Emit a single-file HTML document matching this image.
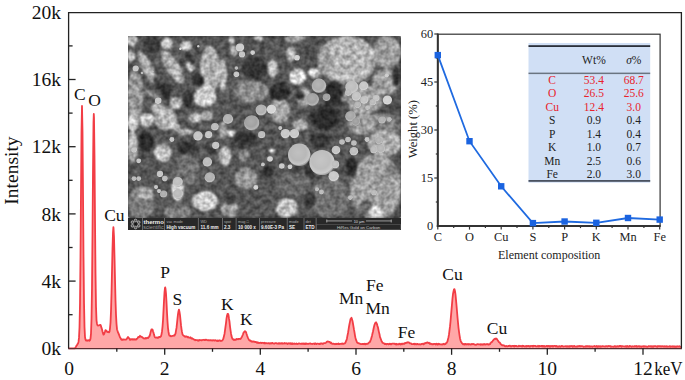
<!DOCTYPE html>
<html><head><meta charset="utf-8"><style>
html,body{margin:0;padding:0;background:#fff;width:685px;height:380px;overflow:hidden}
svg{display:block}
text{font-family:"Liberation Serif",serif;fill:#111}
.t19{font-size:19.5px}
.t17{font-size:17.5px}
.t12{font-size:12.4px;fill:#222}
.t11{font-size:11.5px;fill:#222}
.red{fill:#e8232d}
.sb{font-family:"Liberation Sans",sans-serif}
</style></head><body>
<svg width="685" height="380" viewBox="0 0 685 380"><rect width="685" height="380" fill="#fff"/><path d="M69.0,348.30 L69.5,348.30 L70.0,348.30 L70.5,348.30 L71.0,348.30 L71.5,348.30 L72.0,348.30 L72.5,348.30 L73.0,348.30 L73.5,348.30 L74.0,348.30 L74.5,348.30 L75.0,348.30 L75.5,347.47 L76.0,346.65 L76.5,345.59 L77.0,345.04 L77.5,344.11 L78.0,343.43 L78.5,341.95 L79.0,337.64 L79.5,327.59 L80.0,303.67 L80.5,256.58 L81.0,191.78 L81.5,131.80 L82.0,105.97 L82.5,131.43 L83.0,191.54 L83.5,256.23 L84.0,302.13 L84.5,327.00 L85.0,336.99 L85.5,339.67 L86.0,340.55 L86.5,340.63 L87.0,340.10 L87.5,340.73 L88.0,340.58 L88.5,340.32 L89.0,340.07 L89.5,340.78 L90.0,340.16 L90.5,338.65 L91.0,333.56 L91.5,319.05 L92.0,287.66 L92.5,234.31 L93.0,170.89 L93.5,122.76 L93.8,113.99 L94.0,117.78 L94.5,157.14 L95.0,219.36 L95.5,272.99 L96.0,306.53 L96.5,320.25 L97.0,323.96 L97.5,325.25 L98.0,325.68 L98.5,325.51 L99.0,325.36 L99.5,325.24 L100.0,324.91 L100.5,324.86 L101.0,326.16 L101.5,327.89 L102.0,329.32 L102.5,331.44 L103.0,333.15 L103.5,334.70 L104.0,334.07 L104.5,332.92 L105.0,331.61 L105.5,330.06 L106.0,330.69 L106.5,330.74 L107.0,331.80 L107.5,332.06 L108.0,331.97 L108.5,331.86 L109.0,332.40 L109.5,331.63 L110.0,328.26 L110.5,322.73 L111.0,311.11 L111.5,293.46 L112.0,271.24 L112.5,248.91 L113.0,232.52 L113.4,227.15 L113.5,227.91 L114.0,236.73 L114.5,256.78 L115.0,279.38 L115.5,300.22 L116.0,314.88 L116.5,323.76 L117.0,329.17 L117.3,330.22 L117.5,330.79 L118.0,332.50 L118.5,333.33 L119.0,334.67 L119.5,336.01 L120.0,337.32 L120.5,338.03 L121.0,339.04 L121.5,339.80 L122.0,339.32 L122.5,339.91 L123.0,339.85 L123.5,339.39 L124.0,339.46 L124.5,339.52 L125.0,339.63 L125.5,339.59 L126.0,339.55 L126.5,338.98 L127.0,338.65 L127.5,337.63 L128.0,336.94 L128.5,337.82 L129.0,338.01 L129.5,338.70 L130.0,339.93 L130.5,339.52 L131.0,339.54 L131.5,339.06 L132.0,339.42 L132.5,339.57 L133.0,339.07 L133.5,339.60 L134.0,339.62 L134.5,339.10 L135.0,339.61 L135.5,339.47 L136.0,339.66 L136.5,338.93 L137.0,338.81 L137.5,338.40 L138.0,337.32 L138.5,336.92 L139.0,337.03 L139.5,336.85 L140.0,335.78 L140.5,336.27 L141.0,336.71 L141.5,336.78 L142.0,337.13 L142.5,337.39 L143.0,337.76 L143.5,338.27 L144.0,338.32 L144.5,338.33 L145.0,338.62 L145.5,337.89 L146.0,338.31 L146.5,338.40 L147.0,337.94 L147.5,337.76 L148.0,338.12 L148.5,337.37 L149.0,336.81 L149.5,336.11 L150.0,334.93 L150.5,332.57 L151.0,330.87 L151.5,329.41 L152.0,329.30 L152.5,329.50 L153.0,331.35 L153.5,332.63 L154.0,334.61 L154.5,336.31 L155.0,337.44 L155.5,337.56 L156.0,337.60 L156.5,337.48 L157.0,337.76 L157.5,337.34 L158.0,337.77 L158.5,337.68 L159.0,336.96 L159.5,336.89 L160.0,337.16 L160.5,336.72 L161.0,336.20 L161.5,334.37 L162.0,331.42 L162.5,326.85 L163.0,320.22 L163.5,310.62 L164.0,300.82 L164.5,292.46 L165.0,287.78 L165.2,287.32 L165.5,288.72 L166.0,293.52 L166.5,302.19 L167.0,312.81 L167.5,321.44 L168.0,328.04 L168.5,331.73 L169.0,334.52 L169.5,335.63 L170.0,335.46 L170.5,336.13 L171.0,336.28 L171.5,336.14 L172.0,336.01 L172.5,335.80 L173.0,335.83 L173.5,335.67 L174.0,335.37 L174.5,335.49 L175.0,334.48 L175.5,333.56 L176.0,330.56 L176.5,327.92 L177.0,323.33 L177.5,318.65 L178.0,314.16 L178.5,311.16 L178.9,310.07 L179.0,309.61 L179.5,311.99 L180.0,315.18 L180.5,320.05 L181.0,325.16 L181.5,329.08 L182.0,331.94 L182.5,334.33 L183.0,335.13 L183.5,335.55 L184.0,335.83 L184.5,336.59 L185.0,336.39 L185.5,336.78 L186.0,336.51 L186.5,336.48 L187.0,336.89 L187.5,337.25 L188.0,336.78 L188.5,337.44 L189.0,337.67 L189.5,337.67 L190.0,337.79 L190.5,337.31 L191.0,338.12 L191.5,338.58 L192.0,338.09 L192.5,338.54 L193.0,338.79 L193.5,339.27 L194.0,339.43 L194.5,339.73 L195.0,340.25 L195.5,339.80 L196.0,340.10 L196.5,340.14 L197.0,340.11 L197.5,340.03 L198.0,340.82 L198.5,340.68 L199.0,339.96 L199.5,340.31 L200.0,340.11 L200.5,340.08 L201.0,340.09 L201.5,340.33 L202.0,340.24 L202.5,340.01 L203.0,339.83 L203.5,339.93 L204.0,339.72 L204.5,340.08 L205.0,340.19 L205.5,339.92 L206.0,339.67 L206.5,339.79 L207.0,339.99 L207.5,340.22 L208.0,340.40 L208.5,340.07 L209.0,340.47 L209.5,340.34 L210.0,340.19 L210.5,340.16 L211.0,340.30 L211.5,340.51 L212.0,340.28 L212.5,340.55 L213.0,340.36 L213.5,340.20 L214.0,340.48 L214.5,340.65 L215.0,340.11 L215.5,340.45 L216.0,340.48 L216.5,340.91 L217.0,340.98 L217.5,340.49 L218.0,340.99 L218.5,340.91 L219.0,340.46 L219.5,340.66 L220.0,340.36 L220.5,340.98 L221.0,340.82 L221.5,340.94 L222.0,340.67 L222.5,340.14 L223.0,339.49 L223.5,338.17 L224.0,336.00 L224.5,333.98 L225.0,330.27 L225.5,326.63 L226.0,323.17 L226.5,318.70 L227.0,315.70 L227.5,313.95 L227.8,314.34 L228.0,313.84 L228.5,315.13 L229.0,318.66 L229.5,321.68 L230.0,326.33 L230.5,330.00 L231.0,333.43 L231.5,336.11 L232.0,337.64 L232.5,338.96 L233.0,338.93 L233.5,339.91 L234.0,339.79 L234.5,339.97 L235.0,339.36 L235.5,339.83 L236.0,339.88 L236.5,338.98 L237.0,339.09 L237.5,339.17 L238.0,339.28 L238.5,338.81 L239.0,338.78 L239.5,338.82 L240.0,339.04 L240.5,338.93 L241.0,338.19 L241.5,337.52 L242.0,336.66 L242.5,335.51 L243.0,334.32 L243.5,332.77 L244.0,332.09 L244.5,331.82 L245.0,331.12 L245.5,331.78 L246.0,332.11 L246.5,333.82 L247.0,335.29 L247.5,336.63 L248.0,337.77 L248.5,338.80 L249.0,339.75 L249.5,340.56 L250.0,340.29 L250.5,340.53 L251.0,341.32 L251.5,341.63 L252.0,341.40 L252.5,341.44 L253.0,341.79 L253.5,341.42 L254.0,341.59 L254.5,341.63 L255.0,342.08 L255.5,341.93 L256.0,341.96 L256.5,342.47 L257.0,342.81 L257.5,342.32 L258.0,342.78 L258.5,342.62 L259.0,343.12 L259.5,342.98 L260.0,342.79 L260.5,342.76 L261.0,342.59 L261.5,343.01 L262.0,342.93 L262.5,342.76 L263.0,342.93 L263.5,342.91 L264.0,343.33 L264.5,342.77 L265.0,343.54 L265.5,343.09 L266.0,343.21 L266.5,343.10 L267.0,343.44 L267.5,343.44 L268.0,343.21 L268.5,343.15 L269.0,343.38 L269.5,343.51 L270.0,343.11 L270.5,343.42 L271.0,343.63 L271.5,343.20 L272.0,343.00 L272.5,343.01 L273.0,343.46 L273.5,343.43 L274.0,343.69 L274.5,343.61 L275.0,343.07 L275.5,343.03 L276.0,343.10 L276.5,343.05 L277.0,343.52 L277.5,343.67 L278.0,343.72 L278.5,343.15 L279.0,343.71 L279.5,343.22 L280.0,343.33 L280.5,343.62 L281.0,343.05 L281.5,343.06 L282.0,343.74 L282.5,343.26 L283.0,343.33 L283.5,343.54 L284.0,343.64 L284.5,343.05 L285.0,343.35 L285.5,343.45 L286.0,343.51 L286.5,343.27 L287.0,343.62 L287.5,343.96 L288.0,343.46 L288.5,343.61 L289.0,343.24 L289.5,343.39 L290.0,343.75 L290.5,343.25 L291.0,343.96 L291.5,343.98 L292.0,343.25 L292.5,344.01 L293.0,343.51 L293.5,343.87 L294.0,343.86 L294.5,343.45 L295.0,343.79 L295.5,343.78 L296.0,343.92 L296.5,343.43 L297.0,343.88 L297.5,344.07 L298.0,343.81 L298.5,343.69 L299.0,343.31 L299.5,343.66 L300.0,343.53 L300.5,343.87 L301.0,343.83 L301.5,343.74 L302.0,343.39 L302.5,343.81 L303.0,343.80 L303.5,343.40 L304.0,344.04 L304.5,343.84 L305.0,343.36 L305.5,344.09 L306.0,343.38 L306.5,343.56 L307.0,343.91 L307.5,343.80 L308.0,343.77 L308.5,343.86 L309.0,343.69 L309.5,343.56 L310.0,343.44 L310.5,343.35 L311.0,343.93 L311.5,343.97 L312.0,343.79 L312.5,343.97 L313.0,343.63 L313.5,343.55 L314.0,343.66 L314.5,344.10 L315.0,343.35 L315.5,343.77 L316.0,343.55 L316.5,344.02 L317.0,343.65 L317.5,343.63 L318.0,343.70 L318.5,343.83 L319.0,344.04 L319.5,343.66 L320.0,344.11 L320.5,343.44 L321.0,343.58 L321.5,343.41 L322.0,343.40 L322.5,343.96 L323.0,343.85 L323.5,343.26 L324.0,343.12 L324.5,343.13 L325.0,343.19 L325.5,342.98 L326.0,342.63 L326.5,342.22 L327.0,341.59 L327.5,341.66 L328.0,341.42 L328.5,341.78 L329.0,341.97 L329.5,341.87 L330.0,342.19 L330.5,342.95 L331.0,342.55 L331.5,343.48 L332.0,343.75 L332.5,343.95 L333.0,343.54 L333.5,343.76 L334.0,343.82 L334.5,343.89 L335.0,344.22 L335.5,343.96 L336.0,343.62 L336.5,344.13 L337.0,343.81 L337.5,343.92 L338.0,344.05 L338.5,343.41 L339.0,344.11 L339.5,344.02 L340.0,343.88 L340.5,343.92 L341.0,343.87 L341.5,343.63 L342.0,343.93 L342.5,343.47 L343.0,343.85 L343.5,343.90 L344.0,343.56 L344.5,343.40 L345.0,343.33 L345.5,342.59 L346.0,340.92 L346.5,340.15 L347.0,338.19 L347.5,335.41 L348.0,332.99 L348.5,329.87 L349.0,326.59 L349.5,323.97 L350.0,321.67 L350.5,319.14 L351.0,318.52 L351.3,318.18 L351.5,317.75 L352.0,319.32 L352.5,320.92 L353.0,323.75 L353.5,326.54 L354.0,329.70 L354.5,332.40 L355.0,335.58 L355.5,338.05 L356.0,339.88 L356.5,340.95 L357.0,342.30 L357.5,342.79 L358.0,342.93 L358.5,343.18 L359.0,343.39 L359.5,343.61 L360.0,343.63 L360.5,343.97 L361.0,344.17 L361.5,344.03 L362.0,343.93 L362.5,344.13 L363.0,343.82 L363.5,343.97 L364.0,344.23 L364.5,343.91 L365.0,343.70 L365.5,344.34 L366.0,344.16 L366.5,343.80 L367.0,343.75 L367.5,343.79 L368.0,343.69 L368.5,343.10 L369.0,342.53 L369.5,342.18 L370.0,341.94 L370.5,340.36 L371.0,339.36 L371.5,337.53 L372.0,335.66 L372.5,333.51 L373.0,331.46 L373.5,328.95 L374.0,326.66 L374.5,324.85 L375.0,323.47 L375.5,322.91 L375.9,322.30 L376.0,322.28 L376.5,323.14 L377.0,324.20 L377.5,326.09 L378.0,327.52 L378.5,330.07 L379.0,332.37 L379.5,334.25 L380.0,337.13 L380.5,338.22 L381.0,339.58 L381.5,341.09 L382.0,341.71 L382.5,342.79 L383.0,343.01 L383.5,343.13 L384.0,343.27 L384.5,344.01 L385.0,343.69 L385.5,344.20 L386.0,343.94 L386.5,344.38 L387.0,343.82 L387.5,343.78 L388.0,343.80 L388.5,344.30 L389.0,344.13 L389.5,343.88 L390.0,343.65 L390.5,344.18 L391.0,344.44 L391.5,344.11 L392.0,343.58 L392.5,343.60 L393.0,343.66 L393.5,343.73 L394.0,343.62 L394.5,343.63 L395.0,344.18 L395.5,344.40 L396.0,343.77 L396.5,344.47 L397.0,344.02 L397.5,344.32 L398.0,344.42 L398.5,344.45 L399.0,343.63 L399.5,343.88 L400.0,344.15 L400.5,344.45 L401.0,343.68 L401.5,343.85 L402.0,344.34 L402.5,343.64 L403.0,343.82 L403.5,343.68 L404.0,343.85 L404.5,343.88 L405.0,342.96 L405.5,343.21 L406.0,342.94 L406.5,342.81 L407.0,342.40 L407.5,342.68 L408.0,342.23 L408.5,342.44 L409.0,342.50 L409.5,343.26 L410.0,343.26 L410.5,343.31 L411.0,343.41 L411.5,344.05 L412.0,344.05 L412.5,344.21 L413.0,343.96 L413.5,344.07 L414.0,343.78 L414.5,344.29 L415.0,343.68 L415.5,344.08 L416.0,344.35 L416.5,344.27 L417.0,343.75 L417.5,343.88 L418.0,344.43 L418.5,344.25 L419.0,344.46 L419.5,344.46 L420.0,344.08 L420.5,344.48 L421.0,344.33 L421.5,343.97 L422.0,343.99 L422.5,343.69 L423.0,343.94 L423.5,344.37 L424.0,343.49 L424.5,343.77 L425.0,343.17 L425.5,342.95 L426.0,343.26 L426.5,342.72 L427.0,342.43 L427.5,342.49 L428.0,342.97 L428.5,343.04 L429.0,342.70 L429.5,343.10 L430.0,343.96 L430.5,343.47 L431.0,343.93 L431.5,343.91 L432.0,344.32 L432.5,344.21 L433.0,344.40 L433.5,344.19 L434.0,343.89 L434.5,343.89 L435.0,343.80 L435.5,344.48 L436.0,343.84 L436.5,343.76 L437.0,344.61 L437.5,343.92 L438.0,344.55 L438.5,343.82 L439.0,344.17 L439.5,343.95 L440.0,344.50 L440.5,344.31 L441.0,344.33 L441.5,344.44 L442.0,344.54 L442.5,344.06 L443.0,344.28 L443.5,344.13 L444.0,343.79 L444.5,344.38 L445.0,344.05 L445.5,344.06 L446.0,343.20 L446.5,343.00 L447.0,342.18 L447.5,341.29 L448.0,339.11 L448.5,337.17 L449.0,334.42 L449.5,330.41 L450.0,326.44 L450.5,321.50 L451.0,315.57 L451.5,309.85 L452.0,303.98 L452.5,298.29 L453.0,293.98 L453.5,291.43 L454.0,289.29 L454.2,289.24 L454.5,289.24 L455.0,291.25 L455.5,294.62 L456.0,299.95 L456.5,305.25 L457.0,311.27 L457.5,317.26 L458.0,322.48 L458.5,327.75 L459.0,331.65 L459.5,335.03 L460.0,338.24 L460.5,340.26 L461.0,341.80 L461.5,342.42 L462.0,343.38 L462.5,343.51 L463.0,344.33 L463.5,344.44 L464.0,343.97 L464.5,344.61 L465.0,343.97 L465.5,343.91 L466.0,344.48 L466.5,344.10 L467.0,344.31 L467.5,344.42 L468.0,343.88 L468.5,344.52 L469.0,344.10 L469.5,344.24 L470.0,344.16 L470.5,344.52 L471.0,344.53 L471.5,344.13 L472.0,343.97 L472.5,344.15 L473.0,344.25 L473.5,343.96 L474.0,344.03 L474.5,344.59 L475.0,344.54 L475.5,344.79 L476.0,344.80 L476.5,344.71 L477.0,344.26 L477.5,344.08 L478.0,344.22 L478.5,344.36 L479.0,344.42 L479.5,344.44 L480.0,344.28 L480.5,344.73 L481.0,344.23 L481.5,344.39 L482.0,344.78 L482.5,344.71 L483.0,344.26 L483.5,344.22 L484.0,344.73 L484.5,344.01 L485.0,344.13 L485.5,344.48 L486.0,344.48 L486.5,344.13 L487.0,344.00 L487.5,344.09 L488.0,344.52 L488.5,344.18 L489.0,344.52 L489.5,344.17 L490.0,344.11 L490.5,342.94 L491.0,342.68 L491.5,342.05 L492.0,341.88 L492.5,341.21 L493.0,340.34 L493.5,340.19 L494.0,339.24 L494.5,339.00 L495.0,338.63 L495.5,338.98 L495.8,338.63 L496.0,338.52 L496.5,338.53 L497.0,339.24 L497.5,339.93 L498.0,340.58 L498.5,341.47 L499.0,342.07 L499.5,342.25 L500.0,342.80 L500.5,343.93 L501.0,344.46 L501.5,344.63 L502.0,345.27 L502.5,345.29 L503.0,345.26 L503.5,345.33 L504.0,345.32 L504.5,345.99 L505.0,346.30 L505.5,346.33 L506.0,345.96 L506.5,346.15 L507.0,346.39 L507.5,346.29 L508.0,346.11 L508.5,345.94 L509.0,346.04 L509.5,345.73 L510.0,345.74 L510.5,346.20 L511.0,346.48 L511.5,346.08 L512.0,345.96 L512.5,345.91 L513.0,346.00 L513.5,346.32 L514.0,346.01 L514.5,346.47 L515.0,345.74 L515.5,345.89 L516.0,346.08 L516.5,345.98 L517.0,346.38 L517.5,346.36 L518.0,346.46 L518.5,346.17 L519.0,345.65 L519.5,346.15 L520.0,346.13 L520.5,346.07 L521.0,345.89 L521.5,346.28 L522.0,346.46 L522.5,345.74 L523.0,346.25 L523.5,345.99 L524.0,346.12 L524.5,346.46 L525.0,346.52 L525.5,346.24 L526.0,345.84 L526.5,346.50 L527.0,345.83 L527.5,346.02 L528.0,346.42 L528.5,345.96 L529.0,345.92 L529.5,346.54 L530.0,346.54 L530.5,345.97 L531.0,346.05 L531.5,345.95 L532.0,345.82 L532.5,345.93 L533.0,346.58 L533.5,345.78 L534.0,345.91 L534.5,345.89 L535.0,345.79 L535.5,346.19 L536.0,346.39 L536.5,346.48 L537.0,346.29 L537.5,346.46 L538.0,345.73 L538.5,345.99 L539.0,346.60 L539.5,345.80 L540.0,345.98 L540.5,346.18 L541.0,345.99 L541.5,346.24 L542.0,345.79 L542.5,345.97 L543.0,346.62 L543.5,345.89 L544.0,346.58 L544.5,345.93 L545.0,346.66 L545.5,346.38 L546.0,346.36 L546.5,345.90 L547.0,345.83 L547.5,346.47 L548.0,345.94 L548.5,345.96 L549.0,346.53 L549.5,346.58 L550.0,345.84 L550.5,346.66 L551.0,346.28 L551.5,346.15 L552.0,345.90 L552.5,346.16 L553.0,346.70 L553.5,346.07 L554.0,345.94 L554.5,345.95 L555.0,345.94 L555.5,346.14 L556.0,346.65 L556.5,345.90 L557.0,346.01 L557.5,346.68 L558.0,346.74 L558.5,346.72 L559.0,346.07 L559.5,346.17 L560.0,346.71 L560.5,346.29 L561.0,346.48 L561.5,346.13 L562.0,345.87 L562.5,346.16 L563.0,346.53 L563.5,346.56 L564.0,346.37 L564.5,346.28 L565.0,346.34 L565.5,346.26 L566.0,346.34 L566.5,346.61 L567.0,346.04 L567.5,346.40 L568.0,346.70 L568.5,346.63 L569.0,346.03 L569.5,346.73 L570.0,346.62 L570.5,346.02 L571.0,346.11 L571.5,346.05 L572.0,345.92 L572.5,346.75 L573.0,346.24 L573.5,346.66 L574.0,345.98 L574.5,345.89 L575.0,346.66 L575.5,346.59 L576.0,346.77 L576.5,346.49 L577.0,346.35 L577.5,346.57 L578.0,345.96 L578.5,346.37 L579.0,346.28 L579.5,346.01 L580.0,346.42 L580.5,346.17 L581.0,346.34 L581.5,346.22 L582.0,346.17 L582.5,346.21 L583.0,346.43 L583.5,346.77 L584.0,346.73 L584.5,346.67 L585.0,346.64 L585.5,346.15 L586.0,346.77 L586.5,346.14 L587.0,346.01 L587.5,346.35 L588.0,346.56 L588.5,346.20 L589.0,346.48 L589.5,346.15 L590.0,346.77 L590.5,346.31 L591.0,346.33 L591.5,346.38 L592.0,346.69 L592.5,346.79 L593.0,346.38 L593.5,346.30 L594.0,346.46 L594.5,345.97 L595.0,346.29 L595.5,346.67 L596.0,346.61 L596.5,345.96 L597.0,346.68 L597.5,346.26 L598.0,346.80 L598.5,346.24 L599.0,346.11 L599.5,346.41 L600.0,346.71 L600.5,346.30 L601.0,346.70 L601.5,346.56 L602.0,346.24 L602.5,346.19 L603.0,346.38 L603.5,346.28 L604.0,346.26 L604.5,346.51 L605.0,346.71 L605.5,346.45 L606.0,346.06 L606.5,346.12 L607.0,346.26 L607.5,346.48 L608.0,346.05 L608.5,346.00 L609.0,346.22 L609.5,346.19 L610.0,345.96 L610.5,346.42 L611.0,346.76 L611.5,346.42 L612.0,346.60 L612.5,346.68 L613.0,346.69 L613.5,346.76 L614.0,346.34 L614.5,346.55 L615.0,346.05 L615.5,346.73 L616.0,346.28 L616.5,346.37 L617.0,346.75 L617.5,346.20 L618.0,346.12 L618.5,346.69 L619.0,346.49 L619.5,346.02 L620.0,345.97 L620.5,346.27 L621.0,345.96 L621.5,346.70 L622.0,346.12 L622.5,346.20 L623.0,346.30 L623.5,346.42 L624.0,346.34 L624.5,346.52 L625.0,346.55 L625.5,346.35 L626.0,346.05 L626.5,346.84 L627.0,346.58 L627.5,346.04 L628.0,346.36 L628.5,346.64 L629.0,346.86 L629.5,346.02 L630.0,345.97 L630.5,346.40 L631.0,346.35 L631.5,346.77 L632.0,346.71 L632.5,346.27 L633.0,346.35 L633.5,346.50 L634.0,346.77 L634.5,346.15 L635.0,346.33 L635.5,346.05 L636.0,346.55 L636.5,346.00 L637.0,346.82 L637.5,346.45 L638.0,346.50 L638.5,346.06 L639.0,346.19 L639.5,346.40 L640.0,346.75 L640.5,346.47 L641.0,346.24 L641.5,346.87 L642.0,346.58 L642.5,346.46 L643.0,346.17 L643.5,346.26 L644.0,346.80 L644.5,346.11 L645.0,346.47 L645.5,346.55 L646.0,346.31 L646.5,346.68 L647.0,346.81 L647.5,346.77 L648.0,346.66 L648.5,346.18 L649.0,346.05 L649.5,346.39 L650.0,346.28 L650.5,346.17 L651.0,346.78 L651.5,346.20 L652.0,346.74 L652.5,346.85 L653.0,346.11 L653.5,346.83 L654.0,346.36 L654.5,346.20 L655.0,346.17 L655.5,346.04 L656.0,346.46 L656.5,346.36 L657.0,346.78 L657.5,346.76 L658.0,346.06 L658.5,346.37 L659.0,346.36 L659.5,346.17 L660.0,346.24 L660.5,346.25 L661.0,346.64 L661.5,346.32 L662.0,346.12 L662.5,346.22 L663.0,346.42 L663.5,346.53 L664.0,346.24 L664.5,346.65 L665.0,346.22 L665.5,346.63 L666.0,346.57 L666.5,346.18 L667.0,346.70 L667.5,346.38 L668.0,346.51 L668.5,346.57 L669.0,346.60 L669.5,346.43 L670.0,346.08 L670.5,346.74 L671.0,346.81 L671.5,346.48 L672.0,346.56 L672.5,346.28 L673.0,346.85 L673.5,346.65 L674.0,346.24 L674.5,346.77 L675.0,346.93 L675.5,346.35 L676.0,346.94 L676.5,346.48 L677.0,346.20 L677.5,346.69 L678.0,346.35 L678.5,346.70 L679.0,346.57 L679.5,346.14 L680.0,346.52 L680.5,346.81 L681.0,346.48 L681,348.3 L69,348.3 Z" fill="#ffa7a7" stroke="none"/><path d="M69.0,348.30 L69.5,348.30 L70.0,348.30 L70.5,348.30 L71.0,348.30 L71.5,348.30 L72.0,348.30 L72.5,348.30 L73.0,348.30 L73.5,348.30 L74.0,348.30 L74.5,348.30 L75.0,348.30 L75.5,347.47 L76.0,346.65 L76.5,345.59 L77.0,345.04 L77.5,344.11 L78.0,343.43 L78.5,341.95 L79.0,337.64 L79.5,327.59 L80.0,303.67 L80.5,256.58 L81.0,191.78 L81.5,131.80 L82.0,105.97 L82.5,131.43 L83.0,191.54 L83.5,256.23 L84.0,302.13 L84.5,327.00 L85.0,336.99 L85.5,339.67 L86.0,340.55 L86.5,340.63 L87.0,340.10 L87.5,340.73 L88.0,340.58 L88.5,340.32 L89.0,340.07 L89.5,340.78 L90.0,340.16 L90.5,338.65 L91.0,333.56 L91.5,319.05 L92.0,287.66 L92.5,234.31 L93.0,170.89 L93.5,122.76 L93.8,113.99 L94.0,117.78 L94.5,157.14 L95.0,219.36 L95.5,272.99 L96.0,306.53 L96.5,320.25 L97.0,323.96 L97.5,325.25 L98.0,325.68 L98.5,325.51 L99.0,325.36 L99.5,325.24 L100.0,324.91 L100.5,324.86 L101.0,326.16 L101.5,327.89 L102.0,329.32 L102.5,331.44 L103.0,333.15 L103.5,334.70 L104.0,334.07 L104.5,332.92 L105.0,331.61 L105.5,330.06 L106.0,330.69 L106.5,330.74 L107.0,331.80 L107.5,332.06 L108.0,331.97 L108.5,331.86 L109.0,332.40 L109.5,331.63 L110.0,328.26 L110.5,322.73 L111.0,311.11 L111.5,293.46 L112.0,271.24 L112.5,248.91 L113.0,232.52 L113.4,227.15 L113.5,227.91 L114.0,236.73 L114.5,256.78 L115.0,279.38 L115.5,300.22 L116.0,314.88 L116.5,323.76 L117.0,329.17 L117.3,330.22 L117.5,330.79 L118.0,332.50 L118.5,333.33 L119.0,334.67 L119.5,336.01 L120.0,337.32 L120.5,338.03 L121.0,339.04 L121.5,339.80 L122.0,339.32 L122.5,339.91 L123.0,339.85 L123.5,339.39 L124.0,339.46 L124.5,339.52 L125.0,339.63 L125.5,339.59 L126.0,339.55 L126.5,338.98 L127.0,338.65 L127.5,337.63 L128.0,336.94 L128.5,337.82 L129.0,338.01 L129.5,338.70 L130.0,339.93 L130.5,339.52 L131.0,339.54 L131.5,339.06 L132.0,339.42 L132.5,339.57 L133.0,339.07 L133.5,339.60 L134.0,339.62 L134.5,339.10 L135.0,339.61 L135.5,339.47 L136.0,339.66 L136.5,338.93 L137.0,338.81 L137.5,338.40 L138.0,337.32 L138.5,336.92 L139.0,337.03 L139.5,336.85 L140.0,335.78 L140.5,336.27 L141.0,336.71 L141.5,336.78 L142.0,337.13 L142.5,337.39 L143.0,337.76 L143.5,338.27 L144.0,338.32 L144.5,338.33 L145.0,338.62 L145.5,337.89 L146.0,338.31 L146.5,338.40 L147.0,337.94 L147.5,337.76 L148.0,338.12 L148.5,337.37 L149.0,336.81 L149.5,336.11 L150.0,334.93 L150.5,332.57 L151.0,330.87 L151.5,329.41 L152.0,329.30 L152.5,329.50 L153.0,331.35 L153.5,332.63 L154.0,334.61 L154.5,336.31 L155.0,337.44 L155.5,337.56 L156.0,337.60 L156.5,337.48 L157.0,337.76 L157.5,337.34 L158.0,337.77 L158.5,337.68 L159.0,336.96 L159.5,336.89 L160.0,337.16 L160.5,336.72 L161.0,336.20 L161.5,334.37 L162.0,331.42 L162.5,326.85 L163.0,320.22 L163.5,310.62 L164.0,300.82 L164.5,292.46 L165.0,287.78 L165.2,287.32 L165.5,288.72 L166.0,293.52 L166.5,302.19 L167.0,312.81 L167.5,321.44 L168.0,328.04 L168.5,331.73 L169.0,334.52 L169.5,335.63 L170.0,335.46 L170.5,336.13 L171.0,336.28 L171.5,336.14 L172.0,336.01 L172.5,335.80 L173.0,335.83 L173.5,335.67 L174.0,335.37 L174.5,335.49 L175.0,334.48 L175.5,333.56 L176.0,330.56 L176.5,327.92 L177.0,323.33 L177.5,318.65 L178.0,314.16 L178.5,311.16 L178.9,310.07 L179.0,309.61 L179.5,311.99 L180.0,315.18 L180.5,320.05 L181.0,325.16 L181.5,329.08 L182.0,331.94 L182.5,334.33 L183.0,335.13 L183.5,335.55 L184.0,335.83 L184.5,336.59 L185.0,336.39 L185.5,336.78 L186.0,336.51 L186.5,336.48 L187.0,336.89 L187.5,337.25 L188.0,336.78 L188.5,337.44 L189.0,337.67 L189.5,337.67 L190.0,337.79 L190.5,337.31 L191.0,338.12 L191.5,338.58 L192.0,338.09 L192.5,338.54 L193.0,338.79 L193.5,339.27 L194.0,339.43 L194.5,339.73 L195.0,340.25 L195.5,339.80 L196.0,340.10 L196.5,340.14 L197.0,340.11 L197.5,340.03 L198.0,340.82 L198.5,340.68 L199.0,339.96 L199.5,340.31 L200.0,340.11 L200.5,340.08 L201.0,340.09 L201.5,340.33 L202.0,340.24 L202.5,340.01 L203.0,339.83 L203.5,339.93 L204.0,339.72 L204.5,340.08 L205.0,340.19 L205.5,339.92 L206.0,339.67 L206.5,339.79 L207.0,339.99 L207.5,340.22 L208.0,340.40 L208.5,340.07 L209.0,340.47 L209.5,340.34 L210.0,340.19 L210.5,340.16 L211.0,340.30 L211.5,340.51 L212.0,340.28 L212.5,340.55 L213.0,340.36 L213.5,340.20 L214.0,340.48 L214.5,340.65 L215.0,340.11 L215.5,340.45 L216.0,340.48 L216.5,340.91 L217.0,340.98 L217.5,340.49 L218.0,340.99 L218.5,340.91 L219.0,340.46 L219.5,340.66 L220.0,340.36 L220.5,340.98 L221.0,340.82 L221.5,340.94 L222.0,340.67 L222.5,340.14 L223.0,339.49 L223.5,338.17 L224.0,336.00 L224.5,333.98 L225.0,330.27 L225.5,326.63 L226.0,323.17 L226.5,318.70 L227.0,315.70 L227.5,313.95 L227.8,314.34 L228.0,313.84 L228.5,315.13 L229.0,318.66 L229.5,321.68 L230.0,326.33 L230.5,330.00 L231.0,333.43 L231.5,336.11 L232.0,337.64 L232.5,338.96 L233.0,338.93 L233.5,339.91 L234.0,339.79 L234.5,339.97 L235.0,339.36 L235.5,339.83 L236.0,339.88 L236.5,338.98 L237.0,339.09 L237.5,339.17 L238.0,339.28 L238.5,338.81 L239.0,338.78 L239.5,338.82 L240.0,339.04 L240.5,338.93 L241.0,338.19 L241.5,337.52 L242.0,336.66 L242.5,335.51 L243.0,334.32 L243.5,332.77 L244.0,332.09 L244.5,331.82 L245.0,331.12 L245.5,331.78 L246.0,332.11 L246.5,333.82 L247.0,335.29 L247.5,336.63 L248.0,337.77 L248.5,338.80 L249.0,339.75 L249.5,340.56 L250.0,340.29 L250.5,340.53 L251.0,341.32 L251.5,341.63 L252.0,341.40 L252.5,341.44 L253.0,341.79 L253.5,341.42 L254.0,341.59 L254.5,341.63 L255.0,342.08 L255.5,341.93 L256.0,341.96 L256.5,342.47 L257.0,342.81 L257.5,342.32 L258.0,342.78 L258.5,342.62 L259.0,343.12 L259.5,342.98 L260.0,342.79 L260.5,342.76 L261.0,342.59 L261.5,343.01 L262.0,342.93 L262.5,342.76 L263.0,342.93 L263.5,342.91 L264.0,343.33 L264.5,342.77 L265.0,343.54 L265.5,343.09 L266.0,343.21 L266.5,343.10 L267.0,343.44 L267.5,343.44 L268.0,343.21 L268.5,343.15 L269.0,343.38 L269.5,343.51 L270.0,343.11 L270.5,343.42 L271.0,343.63 L271.5,343.20 L272.0,343.00 L272.5,343.01 L273.0,343.46 L273.5,343.43 L274.0,343.69 L274.5,343.61 L275.0,343.07 L275.5,343.03 L276.0,343.10 L276.5,343.05 L277.0,343.52 L277.5,343.67 L278.0,343.72 L278.5,343.15 L279.0,343.71 L279.5,343.22 L280.0,343.33 L280.5,343.62 L281.0,343.05 L281.5,343.06 L282.0,343.74 L282.5,343.26 L283.0,343.33 L283.5,343.54 L284.0,343.64 L284.5,343.05 L285.0,343.35 L285.5,343.45 L286.0,343.51 L286.5,343.27 L287.0,343.62 L287.5,343.96 L288.0,343.46 L288.5,343.61 L289.0,343.24 L289.5,343.39 L290.0,343.75 L290.5,343.25 L291.0,343.96 L291.5,343.98 L292.0,343.25 L292.5,344.01 L293.0,343.51 L293.5,343.87 L294.0,343.86 L294.5,343.45 L295.0,343.79 L295.5,343.78 L296.0,343.92 L296.5,343.43 L297.0,343.88 L297.5,344.07 L298.0,343.81 L298.5,343.69 L299.0,343.31 L299.5,343.66 L300.0,343.53 L300.5,343.87 L301.0,343.83 L301.5,343.74 L302.0,343.39 L302.5,343.81 L303.0,343.80 L303.5,343.40 L304.0,344.04 L304.5,343.84 L305.0,343.36 L305.5,344.09 L306.0,343.38 L306.5,343.56 L307.0,343.91 L307.5,343.80 L308.0,343.77 L308.5,343.86 L309.0,343.69 L309.5,343.56 L310.0,343.44 L310.5,343.35 L311.0,343.93 L311.5,343.97 L312.0,343.79 L312.5,343.97 L313.0,343.63 L313.5,343.55 L314.0,343.66 L314.5,344.10 L315.0,343.35 L315.5,343.77 L316.0,343.55 L316.5,344.02 L317.0,343.65 L317.5,343.63 L318.0,343.70 L318.5,343.83 L319.0,344.04 L319.5,343.66 L320.0,344.11 L320.5,343.44 L321.0,343.58 L321.5,343.41 L322.0,343.40 L322.5,343.96 L323.0,343.85 L323.5,343.26 L324.0,343.12 L324.5,343.13 L325.0,343.19 L325.5,342.98 L326.0,342.63 L326.5,342.22 L327.0,341.59 L327.5,341.66 L328.0,341.42 L328.5,341.78 L329.0,341.97 L329.5,341.87 L330.0,342.19 L330.5,342.95 L331.0,342.55 L331.5,343.48 L332.0,343.75 L332.5,343.95 L333.0,343.54 L333.5,343.76 L334.0,343.82 L334.5,343.89 L335.0,344.22 L335.5,343.96 L336.0,343.62 L336.5,344.13 L337.0,343.81 L337.5,343.92 L338.0,344.05 L338.5,343.41 L339.0,344.11 L339.5,344.02 L340.0,343.88 L340.5,343.92 L341.0,343.87 L341.5,343.63 L342.0,343.93 L342.5,343.47 L343.0,343.85 L343.5,343.90 L344.0,343.56 L344.5,343.40 L345.0,343.33 L345.5,342.59 L346.0,340.92 L346.5,340.15 L347.0,338.19 L347.5,335.41 L348.0,332.99 L348.5,329.87 L349.0,326.59 L349.5,323.97 L350.0,321.67 L350.5,319.14 L351.0,318.52 L351.3,318.18 L351.5,317.75 L352.0,319.32 L352.5,320.92 L353.0,323.75 L353.5,326.54 L354.0,329.70 L354.5,332.40 L355.0,335.58 L355.5,338.05 L356.0,339.88 L356.5,340.95 L357.0,342.30 L357.5,342.79 L358.0,342.93 L358.5,343.18 L359.0,343.39 L359.5,343.61 L360.0,343.63 L360.5,343.97 L361.0,344.17 L361.5,344.03 L362.0,343.93 L362.5,344.13 L363.0,343.82 L363.5,343.97 L364.0,344.23 L364.5,343.91 L365.0,343.70 L365.5,344.34 L366.0,344.16 L366.5,343.80 L367.0,343.75 L367.5,343.79 L368.0,343.69 L368.5,343.10 L369.0,342.53 L369.5,342.18 L370.0,341.94 L370.5,340.36 L371.0,339.36 L371.5,337.53 L372.0,335.66 L372.5,333.51 L373.0,331.46 L373.5,328.95 L374.0,326.66 L374.5,324.85 L375.0,323.47 L375.5,322.91 L375.9,322.30 L376.0,322.28 L376.5,323.14 L377.0,324.20 L377.5,326.09 L378.0,327.52 L378.5,330.07 L379.0,332.37 L379.5,334.25 L380.0,337.13 L380.5,338.22 L381.0,339.58 L381.5,341.09 L382.0,341.71 L382.5,342.79 L383.0,343.01 L383.5,343.13 L384.0,343.27 L384.5,344.01 L385.0,343.69 L385.5,344.20 L386.0,343.94 L386.5,344.38 L387.0,343.82 L387.5,343.78 L388.0,343.80 L388.5,344.30 L389.0,344.13 L389.5,343.88 L390.0,343.65 L390.5,344.18 L391.0,344.44 L391.5,344.11 L392.0,343.58 L392.5,343.60 L393.0,343.66 L393.5,343.73 L394.0,343.62 L394.5,343.63 L395.0,344.18 L395.5,344.40 L396.0,343.77 L396.5,344.47 L397.0,344.02 L397.5,344.32 L398.0,344.42 L398.5,344.45 L399.0,343.63 L399.5,343.88 L400.0,344.15 L400.5,344.45 L401.0,343.68 L401.5,343.85 L402.0,344.34 L402.5,343.64 L403.0,343.82 L403.5,343.68 L404.0,343.85 L404.5,343.88 L405.0,342.96 L405.5,343.21 L406.0,342.94 L406.5,342.81 L407.0,342.40 L407.5,342.68 L408.0,342.23 L408.5,342.44 L409.0,342.50 L409.5,343.26 L410.0,343.26 L410.5,343.31 L411.0,343.41 L411.5,344.05 L412.0,344.05 L412.5,344.21 L413.0,343.96 L413.5,344.07 L414.0,343.78 L414.5,344.29 L415.0,343.68 L415.5,344.08 L416.0,344.35 L416.5,344.27 L417.0,343.75 L417.5,343.88 L418.0,344.43 L418.5,344.25 L419.0,344.46 L419.5,344.46 L420.0,344.08 L420.5,344.48 L421.0,344.33 L421.5,343.97 L422.0,343.99 L422.5,343.69 L423.0,343.94 L423.5,344.37 L424.0,343.49 L424.5,343.77 L425.0,343.17 L425.5,342.95 L426.0,343.26 L426.5,342.72 L427.0,342.43 L427.5,342.49 L428.0,342.97 L428.5,343.04 L429.0,342.70 L429.5,343.10 L430.0,343.96 L430.5,343.47 L431.0,343.93 L431.5,343.91 L432.0,344.32 L432.5,344.21 L433.0,344.40 L433.5,344.19 L434.0,343.89 L434.5,343.89 L435.0,343.80 L435.5,344.48 L436.0,343.84 L436.5,343.76 L437.0,344.61 L437.5,343.92 L438.0,344.55 L438.5,343.82 L439.0,344.17 L439.5,343.95 L440.0,344.50 L440.5,344.31 L441.0,344.33 L441.5,344.44 L442.0,344.54 L442.5,344.06 L443.0,344.28 L443.5,344.13 L444.0,343.79 L444.5,344.38 L445.0,344.05 L445.5,344.06 L446.0,343.20 L446.5,343.00 L447.0,342.18 L447.5,341.29 L448.0,339.11 L448.5,337.17 L449.0,334.42 L449.5,330.41 L450.0,326.44 L450.5,321.50 L451.0,315.57 L451.5,309.85 L452.0,303.98 L452.5,298.29 L453.0,293.98 L453.5,291.43 L454.0,289.29 L454.2,289.24 L454.5,289.24 L455.0,291.25 L455.5,294.62 L456.0,299.95 L456.5,305.25 L457.0,311.27 L457.5,317.26 L458.0,322.48 L458.5,327.75 L459.0,331.65 L459.5,335.03 L460.0,338.24 L460.5,340.26 L461.0,341.80 L461.5,342.42 L462.0,343.38 L462.5,343.51 L463.0,344.33 L463.5,344.44 L464.0,343.97 L464.5,344.61 L465.0,343.97 L465.5,343.91 L466.0,344.48 L466.5,344.10 L467.0,344.31 L467.5,344.42 L468.0,343.88 L468.5,344.52 L469.0,344.10 L469.5,344.24 L470.0,344.16 L470.5,344.52 L471.0,344.53 L471.5,344.13 L472.0,343.97 L472.5,344.15 L473.0,344.25 L473.5,343.96 L474.0,344.03 L474.5,344.59 L475.0,344.54 L475.5,344.79 L476.0,344.80 L476.5,344.71 L477.0,344.26 L477.5,344.08 L478.0,344.22 L478.5,344.36 L479.0,344.42 L479.5,344.44 L480.0,344.28 L480.5,344.73 L481.0,344.23 L481.5,344.39 L482.0,344.78 L482.5,344.71 L483.0,344.26 L483.5,344.22 L484.0,344.73 L484.5,344.01 L485.0,344.13 L485.5,344.48 L486.0,344.48 L486.5,344.13 L487.0,344.00 L487.5,344.09 L488.0,344.52 L488.5,344.18 L489.0,344.52 L489.5,344.17 L490.0,344.11 L490.5,342.94 L491.0,342.68 L491.5,342.05 L492.0,341.88 L492.5,341.21 L493.0,340.34 L493.5,340.19 L494.0,339.24 L494.5,339.00 L495.0,338.63 L495.5,338.98 L495.8,338.63 L496.0,338.52 L496.5,338.53 L497.0,339.24 L497.5,339.93 L498.0,340.58 L498.5,341.47 L499.0,342.07 L499.5,342.25 L500.0,342.80 L500.5,343.93 L501.0,344.46 L501.5,344.63 L502.0,345.27 L502.5,345.29 L503.0,345.26 L503.5,345.33 L504.0,345.32 L504.5,345.99 L505.0,346.30 L505.5,346.33 L506.0,345.96 L506.5,346.15 L507.0,346.39 L507.5,346.29 L508.0,346.11 L508.5,345.94 L509.0,346.04 L509.5,345.73 L510.0,345.74 L510.5,346.20 L511.0,346.48 L511.5,346.08 L512.0,345.96 L512.5,345.91 L513.0,346.00 L513.5,346.32 L514.0,346.01 L514.5,346.47 L515.0,345.74 L515.5,345.89 L516.0,346.08 L516.5,345.98 L517.0,346.38 L517.5,346.36 L518.0,346.46 L518.5,346.17 L519.0,345.65 L519.5,346.15 L520.0,346.13 L520.5,346.07 L521.0,345.89 L521.5,346.28 L522.0,346.46 L522.5,345.74 L523.0,346.25 L523.5,345.99 L524.0,346.12 L524.5,346.46 L525.0,346.52 L525.5,346.24 L526.0,345.84 L526.5,346.50 L527.0,345.83 L527.5,346.02 L528.0,346.42 L528.5,345.96 L529.0,345.92 L529.5,346.54 L530.0,346.54 L530.5,345.97 L531.0,346.05 L531.5,345.95 L532.0,345.82 L532.5,345.93 L533.0,346.58 L533.5,345.78 L534.0,345.91 L534.5,345.89 L535.0,345.79 L535.5,346.19 L536.0,346.39 L536.5,346.48 L537.0,346.29 L537.5,346.46 L538.0,345.73 L538.5,345.99 L539.0,346.60 L539.5,345.80 L540.0,345.98 L540.5,346.18 L541.0,345.99 L541.5,346.24 L542.0,345.79 L542.5,345.97 L543.0,346.62 L543.5,345.89 L544.0,346.58 L544.5,345.93 L545.0,346.66 L545.5,346.38 L546.0,346.36 L546.5,345.90 L547.0,345.83 L547.5,346.47 L548.0,345.94 L548.5,345.96 L549.0,346.53 L549.5,346.58 L550.0,345.84 L550.5,346.66 L551.0,346.28 L551.5,346.15 L552.0,345.90 L552.5,346.16 L553.0,346.70 L553.5,346.07 L554.0,345.94 L554.5,345.95 L555.0,345.94 L555.5,346.14 L556.0,346.65 L556.5,345.90 L557.0,346.01 L557.5,346.68 L558.0,346.74 L558.5,346.72 L559.0,346.07 L559.5,346.17 L560.0,346.71 L560.5,346.29 L561.0,346.48 L561.5,346.13 L562.0,345.87 L562.5,346.16 L563.0,346.53 L563.5,346.56 L564.0,346.37 L564.5,346.28 L565.0,346.34 L565.5,346.26 L566.0,346.34 L566.5,346.61 L567.0,346.04 L567.5,346.40 L568.0,346.70 L568.5,346.63 L569.0,346.03 L569.5,346.73 L570.0,346.62 L570.5,346.02 L571.0,346.11 L571.5,346.05 L572.0,345.92 L572.5,346.75 L573.0,346.24 L573.5,346.66 L574.0,345.98 L574.5,345.89 L575.0,346.66 L575.5,346.59 L576.0,346.77 L576.5,346.49 L577.0,346.35 L577.5,346.57 L578.0,345.96 L578.5,346.37 L579.0,346.28 L579.5,346.01 L580.0,346.42 L580.5,346.17 L581.0,346.34 L581.5,346.22 L582.0,346.17 L582.5,346.21 L583.0,346.43 L583.5,346.77 L584.0,346.73 L584.5,346.67 L585.0,346.64 L585.5,346.15 L586.0,346.77 L586.5,346.14 L587.0,346.01 L587.5,346.35 L588.0,346.56 L588.5,346.20 L589.0,346.48 L589.5,346.15 L590.0,346.77 L590.5,346.31 L591.0,346.33 L591.5,346.38 L592.0,346.69 L592.5,346.79 L593.0,346.38 L593.5,346.30 L594.0,346.46 L594.5,345.97 L595.0,346.29 L595.5,346.67 L596.0,346.61 L596.5,345.96 L597.0,346.68 L597.5,346.26 L598.0,346.80 L598.5,346.24 L599.0,346.11 L599.5,346.41 L600.0,346.71 L600.5,346.30 L601.0,346.70 L601.5,346.56 L602.0,346.24 L602.5,346.19 L603.0,346.38 L603.5,346.28 L604.0,346.26 L604.5,346.51 L605.0,346.71 L605.5,346.45 L606.0,346.06 L606.5,346.12 L607.0,346.26 L607.5,346.48 L608.0,346.05 L608.5,346.00 L609.0,346.22 L609.5,346.19 L610.0,345.96 L610.5,346.42 L611.0,346.76 L611.5,346.42 L612.0,346.60 L612.5,346.68 L613.0,346.69 L613.5,346.76 L614.0,346.34 L614.5,346.55 L615.0,346.05 L615.5,346.73 L616.0,346.28 L616.5,346.37 L617.0,346.75 L617.5,346.20 L618.0,346.12 L618.5,346.69 L619.0,346.49 L619.5,346.02 L620.0,345.97 L620.5,346.27 L621.0,345.96 L621.5,346.70 L622.0,346.12 L622.5,346.20 L623.0,346.30 L623.5,346.42 L624.0,346.34 L624.5,346.52 L625.0,346.55 L625.5,346.35 L626.0,346.05 L626.5,346.84 L627.0,346.58 L627.5,346.04 L628.0,346.36 L628.5,346.64 L629.0,346.86 L629.5,346.02 L630.0,345.97 L630.5,346.40 L631.0,346.35 L631.5,346.77 L632.0,346.71 L632.5,346.27 L633.0,346.35 L633.5,346.50 L634.0,346.77 L634.5,346.15 L635.0,346.33 L635.5,346.05 L636.0,346.55 L636.5,346.00 L637.0,346.82 L637.5,346.45 L638.0,346.50 L638.5,346.06 L639.0,346.19 L639.5,346.40 L640.0,346.75 L640.5,346.47 L641.0,346.24 L641.5,346.87 L642.0,346.58 L642.5,346.46 L643.0,346.17 L643.5,346.26 L644.0,346.80 L644.5,346.11 L645.0,346.47 L645.5,346.55 L646.0,346.31 L646.5,346.68 L647.0,346.81 L647.5,346.77 L648.0,346.66 L648.5,346.18 L649.0,346.05 L649.5,346.39 L650.0,346.28 L650.5,346.17 L651.0,346.78 L651.5,346.20 L652.0,346.74 L652.5,346.85 L653.0,346.11 L653.5,346.83 L654.0,346.36 L654.5,346.20 L655.0,346.17 L655.5,346.04 L656.0,346.46 L656.5,346.36 L657.0,346.78 L657.5,346.76 L658.0,346.06 L658.5,346.37 L659.0,346.36 L659.5,346.17 L660.0,346.24 L660.5,346.25 L661.0,346.64 L661.5,346.32 L662.0,346.12 L662.5,346.22 L663.0,346.42 L663.5,346.53 L664.0,346.24 L664.5,346.65 L665.0,346.22 L665.5,346.63 L666.0,346.57 L666.5,346.18 L667.0,346.70 L667.5,346.38 L668.0,346.51 L668.5,346.57 L669.0,346.60 L669.5,346.43 L670.0,346.08 L670.5,346.74 L671.0,346.81 L671.5,346.48 L672.0,346.56 L672.5,346.28 L673.0,346.85 L673.5,346.65 L674.0,346.24 L674.5,346.77 L675.0,346.93 L675.5,346.35 L676.0,346.94 L676.5,346.48 L677.0,346.20 L677.5,346.69 L678.0,346.35 L678.5,346.70 L679.0,346.57 L679.5,346.14 L680.0,346.52 L680.5,346.81 L681.0,346.48" fill="none" stroke="#f23d45" stroke-width="1.8" stroke-linejoin="round"/><path d="M68.6,348.3 V12.6 H681.4 V348.3" fill="none" stroke="#222" stroke-width="1.3"/><line x1="68" y1="348.6" x2="682" y2="348.6" stroke="#5c2c30" stroke-width="1.3"/><line x1="68.6" y1="314.7" x2="72.6" y2="314.7" stroke="#222" stroke-width="1.3"/><line x1="68.6" y1="281.1" x2="75.6" y2="281.1" stroke="#222" stroke-width="1.3"/><line x1="68.6" y1="247.5" x2="72.6" y2="247.5" stroke="#222" stroke-width="1.3"/><line x1="68.6" y1="213.9" x2="75.6" y2="213.9" stroke="#222" stroke-width="1.3"/><line x1="68.6" y1="180.3" x2="72.6" y2="180.3" stroke="#222" stroke-width="1.3"/><line x1="68.6" y1="146.7" x2="75.6" y2="146.7" stroke="#222" stroke-width="1.3"/><line x1="68.6" y1="113.1" x2="72.6" y2="113.1" stroke="#222" stroke-width="1.3"/><line x1="68.6" y1="79.5" x2="75.6" y2="79.5" stroke="#222" stroke-width="1.3"/><line x1="68.6" y1="45.9" x2="72.6" y2="45.9" stroke="#222" stroke-width="1.3"/><line x1="116.8" y1="348.3" x2="116.8" y2="351.8" stroke="#222" stroke-width="1.3"/><line x1="164.7" y1="348.3" x2="164.7" y2="354.8" stroke="#222" stroke-width="1.3"/><line x1="212.5" y1="348.3" x2="212.5" y2="351.8" stroke="#222" stroke-width="1.3"/><line x1="260.3" y1="348.3" x2="260.3" y2="354.8" stroke="#222" stroke-width="1.3"/><line x1="308.1" y1="348.3" x2="308.1" y2="351.8" stroke="#222" stroke-width="1.3"/><line x1="356.0" y1="348.3" x2="356.0" y2="354.8" stroke="#222" stroke-width="1.3"/><line x1="403.8" y1="348.3" x2="403.8" y2="351.8" stroke="#222" stroke-width="1.3"/><line x1="451.6" y1="348.3" x2="451.6" y2="354.8" stroke="#222" stroke-width="1.3"/><line x1="499.5" y1="348.3" x2="499.5" y2="351.8" stroke="#222" stroke-width="1.3"/><line x1="547.3" y1="348.3" x2="547.3" y2="354.8" stroke="#222" stroke-width="1.3"/><line x1="595.1" y1="348.3" x2="595.1" y2="351.8" stroke="#222" stroke-width="1.3"/><line x1="643.0" y1="348.3" x2="643.0" y2="354.8" stroke="#222" stroke-width="1.3"/><text x="61" y="354.9" text-anchor="end" class="t19">0k</text><text x="61" y="287.7" text-anchor="end" class="t19">4k</text><text x="61" y="220.5" text-anchor="end" class="t19">8k</text><text x="61" y="153.3" text-anchor="end" class="t19">12k</text><text x="61" y="86.1" text-anchor="end" class="t19">16k</text><text x="61" y="18.9" text-anchor="end" class="t19">20k</text><text x="69.0" y="374.5" text-anchor="middle" class="t19">0</text><text x="164.7" y="374.5" text-anchor="middle" class="t19">2</text><text x="260.3" y="374.5" text-anchor="middle" class="t19">4</text><text x="356.0" y="374.5" text-anchor="middle" class="t19">6</text><text x="451.6" y="374.5" text-anchor="middle" class="t19">8</text><text x="547.3" y="374.5" text-anchor="middle" class="t19">10</text><text x="643.0" y="374.5" text-anchor="middle" class="t19">12</text><text x="654.3" y="374.5" text-anchor="start" class="t19" textLength="28.3" lengthAdjust="spacingAndGlyphs">keV</text><text transform="translate(17.5,170.5) rotate(-90)" text-anchor="middle" class="t19">Intensity</text><text x="79.9" y="99.7" text-anchor="middle" class="t17">C</text><text x="94.5" y="105.6" text-anchor="middle" class="t17">O</text><text x="114.4" y="220.5" text-anchor="middle" class="t17">Cu</text><text x="165" y="277.6" text-anchor="middle" class="t17">P</text><text x="177.4" y="304.7" text-anchor="middle" class="t17">S</text><text x="227.3" y="309.8" text-anchor="middle" class="t17">K</text><text x="246.2" y="324.8" text-anchor="middle" class="t17">K</text><text x="351.2" y="304.1" text-anchor="middle" class="t17">Mn</text><text x="374.8" y="291" text-anchor="middle" class="t17">Fe</text><text x="377.7" y="313.6" text-anchor="middle" class="t17">Mn</text><text x="406.6" y="337.5" text-anchor="middle" class="t17">Fe</text><text x="452.5" y="280" text-anchor="middle" class="t17">Cu</text><text x="497" y="333.7" text-anchor="middle" class="t17">Cu</text><defs><clipPath id="semclip"><rect x="128" y="36" width="273" height="182"/></clipPath><filter id="bl2" x="-20%" y="-20%" width="140%" height="140%"><feGaussianBlur stdDeviation="1.1"/></filter><filter id="bl1" x="-20%" y="-20%" width="140%" height="140%"><feGaussianBlur stdDeviation="0.5"/></filter><filter id="tex" filterUnits="userSpaceOnUse" x="128" y="36" width="273" height="182" color-interpolation-filters="sRGB"><feGaussianBlur in="SourceGraphic" stdDeviation="0.85" result="b"/><feTurbulence type="fractalNoise" baseFrequency="0.2" numOctaves="2" seed="5" result="n"/><feColorMatrix in="n" type="matrix" values="1.0 0 0 0 0.0  1.0 0 0 0 0.0  1.0 0 0 0 0.0  0 0 0 0 1" result="g"/><feComposite in="b" in2="g" operator="arithmetic" k1="0.6" k2="0.7" k3="0.14" k4="-0.07"/></filter><radialGradient id="sph" cx="0.45" cy="0.4" r="0.6"><stop offset="0" stop-color="#fff" stop-opacity="0.12"/><stop offset="0.6" stop-color="#fff" stop-opacity="0"/><stop offset="0.88" stop-color="#fff" stop-opacity="0.22"/><stop offset="1" stop-color="#000" stop-opacity="0.15"/></radialGradient></defs><g clip-path="url(#semclip)"><g filter="url(#tex)"><rect x="128" y="36" width="273" height="182" fill="#565656"/><ellipse cx="132" cy="40" rx="6" ry="6" fill="#bcbcbc"/><ellipse cx="131" cy="56" rx="4" ry="6" fill="#c7c7c7"/><ellipse cx="135" cy="95" rx="8" ry="25" fill="#999999"/><ellipse cx="147.5" cy="68" rx="5" ry="18" fill="#b0b0b0" transform="rotate(-28 147.5 68)"/><ellipse cx="167" cy="43.5" rx="6" ry="5.5" fill="#cdcdcd"/><ellipse cx="186" cy="46" rx="6" ry="5" fill="#c7c7c7"/><ellipse cx="152" cy="45" rx="9" ry="9" fill="#383838"/><ellipse cx="172.5" cy="67" rx="6.5" ry="19" fill="#b4b4b4" transform="rotate(-33 172.5 67)"/><ellipse cx="190.6" cy="66" rx="4" ry="6" fill="#d3d3d3"/><ellipse cx="210" cy="70" rx="10" ry="24" fill="#b0b0b0"/><ellipse cx="198" cy="80" rx="6" ry="7" fill="#434343"/><ellipse cx="205" cy="97" rx="11" ry="10" fill="#d3d3d3"/><ellipse cx="176" cy="103" rx="6" ry="6" fill="#b6b6b6"/><ellipse cx="166" cy="91" rx="5" ry="9" fill="#323232"/><ellipse cx="133" cy="122" rx="6" ry="9" fill="#cdcdcd"/><ellipse cx="147" cy="119" rx="7" ry="6" fill="#c2c2c2"/><ellipse cx="165" cy="118" rx="11" ry="12" fill="#ababab"/><ellipse cx="195.5" cy="118" rx="7" ry="5" fill="#bcbcbc"/><ellipse cx="207" cy="116" rx="6" ry="5" fill="#ababab"/><ellipse cx="223" cy="75" rx="4" ry="16" fill="#bcbcbc"/><ellipse cx="231.5" cy="40" rx="2.5" ry="4" fill="#d9d9d9" transform="rotate(-30 231.5 40)"/><ellipse cx="234" cy="51" rx="4" ry="5" fill="#ababab"/><ellipse cx="255" cy="69" rx="13" ry="13" fill="#3d3d3d"/><ellipse cx="259" cy="38.5" rx="4.5" ry="3" fill="#b6b6b6"/><ellipse cx="272.7" cy="68.5" rx="5" ry="8.5" fill="#cdcdcd"/><ellipse cx="251" cy="91" rx="17" ry="11" fill="#8e8e8e"/><ellipse cx="291" cy="54" rx="4.5" ry="7.5" fill="#c2c2c2"/><ellipse cx="297.6" cy="76.8" rx="8.5" ry="8" fill="#d9d9d9"/><ellipse cx="280" cy="92" rx="10" ry="10" fill="#383838"/><ellipse cx="280" cy="110" rx="10" ry="13" fill="#a5a5a5"/><ellipse cx="223" cy="130" rx="4" ry="9" fill="#9f9f9f"/><ellipse cx="304" cy="97" rx="7" ry="10" fill="#9f9f9f"/><ellipse cx="295" cy="38" rx="10" ry="4" fill="#9f9f9f"/><ellipse cx="300" cy="125" rx="8" ry="6" fill="#ababab"/><ellipse cx="347" cy="60" rx="29" ry="24" fill="#b4b4b4"/><ellipse cx="325" cy="60" rx="8" ry="14" fill="#9f9f9f"/><ellipse cx="387" cy="52" rx="14" ry="16" fill="#9f9f9f"/><ellipse cx="314" cy="54" rx="4" ry="18" fill="#4f4f4f"/><ellipse cx="314" cy="73" rx="6" ry="5" fill="#cdcdcd"/><ellipse cx="334" cy="91" rx="9" ry="11" fill="#434343"/><ellipse cx="386" cy="82" rx="14" ry="13" fill="#9f9f9f"/><ellipse cx="362" cy="100" rx="20" ry="15" fill="#9f9f9f"/><ellipse cx="372" cy="122" rx="12" ry="8" fill="#9f9f9f"/><ellipse cx="392" cy="110" rx="7" ry="9" fill="#4f4f4f"/><ellipse cx="344" cy="110" rx="6" ry="9" fill="#494949"/><ellipse cx="325" cy="118" rx="16" ry="13" fill="#3a3a3a"/><ellipse cx="333" cy="101" rx="9" ry="7" fill="#353535"/><ellipse cx="385" cy="125" rx="16" ry="12" fill="#7d7d7d"/><ellipse cx="362" cy="125" rx="14" ry="10" fill="#9f9f9f"/><ellipse cx="132.5" cy="146" rx="5" ry="16" fill="#b6b6b6"/><ellipse cx="146" cy="142" rx="8" ry="12" fill="#434343"/><ellipse cx="163" cy="153" rx="9" ry="9" fill="#c7c7c7"/><ellipse cx="185" cy="132" rx="8" ry="3" fill="#b6b6b6"/><ellipse cx="187" cy="148" rx="12" ry="8" fill="#494949"/><ellipse cx="141" cy="203" rx="13" ry="17" fill="#7d7d7d"/><ellipse cx="145" cy="193" rx="9" ry="6" fill="#ababab"/><ellipse cx="177.8" cy="189" rx="6" ry="12" fill="#d9d9d9"/><ellipse cx="205" cy="201" rx="13" ry="10" fill="#cdcdcd"/><ellipse cx="187" cy="170" rx="12" ry="16" fill="#717171"/><ellipse cx="178" cy="212" rx="14" ry="8" fill="#7d7d7d"/><ellipse cx="225" cy="156" rx="6" ry="9.5" fill="#c7c7c7"/><ellipse cx="231" cy="133.5" rx="5" ry="3.5" fill="#cdcdcd"/><ellipse cx="245" cy="140" rx="13" ry="10" fill="#434343"/><ellipse cx="244" cy="155" rx="6" ry="6" fill="#888888"/><ellipse cx="246" cy="178.5" rx="11" ry="10.5" fill="#999999"/><ellipse cx="268" cy="172" rx="6" ry="6" fill="#3d3d3d"/><ellipse cx="294.5" cy="183.5" rx="17" ry="15.5" fill="#686868"/><ellipse cx="286.5" cy="208" rx="11" ry="10" fill="#c2c2c2"/><ellipse cx="229.5" cy="209" rx="8.5" ry="8.5" fill="#9f9f9f"/><ellipse cx="262" cy="205" rx="15" ry="12" fill="#585858"/><ellipse cx="272" cy="150.8" rx="3.5" ry="1.8" fill="#e4e4e4"/><ellipse cx="322" cy="140" rx="12" ry="9" fill="#4f4f4f"/><ellipse cx="310" cy="170" rx="5" ry="8" fill="#383838"/><ellipse cx="296" cy="170" rx="8" ry="4" fill="#434343"/><ellipse cx="376" cy="187" rx="26" ry="33" fill="#9f9f9f"/><ellipse cx="366" cy="208" rx="7" ry="8" fill="#666666"/><ellipse cx="392" cy="170" rx="5" ry="6" fill="#777777"/><ellipse cx="351.5" cy="166.7" rx="6" ry="11" fill="#434343"/><ellipse cx="385" cy="143" rx="17" ry="13" fill="#ababab"/><ellipse cx="330" cy="199" rx="20" ry="21" fill="#717171"/><ellipse cx="376" cy="212" rx="7" ry="6" fill="#d9d9d9"/><ellipse cx="152" cy="44" rx="7" ry="7" fill="#3a3a3a"/><ellipse cx="166" cy="90" rx="4" ry="8" fill="#2c2c2c"/><ellipse cx="198" cy="80" rx="5" ry="6" fill="#2c2c2c"/><ellipse cx="280" cy="92" rx="9" ry="9" fill="#2e2e2e"/><ellipse cx="255" cy="69" rx="11" ry="11" fill="#353535"/><ellipse cx="334" cy="91" rx="8" ry="10" fill="#2c2c2c"/><ellipse cx="325" cy="118" rx="13" ry="10" fill="#2c2c2c"/><ellipse cx="146" cy="142" rx="7" ry="10" fill="#2c2c2c"/><ellipse cx="187" cy="148" rx="10" ry="6" fill="#323232"/><ellipse cx="245" cy="138" rx="11" ry="7" fill="#323232"/><ellipse cx="268" cy="172" rx="5" ry="5" fill="#2c2c2c"/><ellipse cx="351.5" cy="166.7" rx="5" ry="10" fill="#2c2c2c"/><ellipse cx="320" cy="140" rx="10" ry="7" fill="#383838"/><ellipse cx="158" cy="84" rx="3" ry="8" fill="#383838" transform="rotate(-30 158 84)"/><ellipse cx="190" cy="58" rx="3" ry="8" fill="#383838" transform="rotate(-30 190 58)"/><ellipse cx="396" cy="76" rx="4" ry="11" fill="#383838"/><ellipse cx="300" cy="95" rx="4" ry="5" fill="#383838"/><ellipse cx="212" cy="150" rx="4" ry="4" fill="#383838"/><ellipse cx="230" cy="200" rx="5" ry="5" fill="#3d3d3d"/><ellipse cx="310" cy="200" rx="6" ry="8" fill="#3d3d3d"/><ellipse cx="188" cy="99" rx="5" ry="9" fill="#323232"/><ellipse cx="170" cy="121" rx="5" ry="13" fill="#c2c2c2" transform="rotate(-45 170 121)"/><ellipse cx="156.5" cy="107.5" rx="5.5" ry="4.5" fill="#bcbcbc"/><ellipse cx="151" cy="94.5" rx="8.5" ry="2.5" fill="#949494" transform="rotate(20 151 94.5)"/><ellipse cx="146" cy="120" rx="6" ry="7" fill="#c7c7c7"/></g><g filter="url(#bl1)"><circle cx="135.7" cy="68.5" r="3" fill="#c7c7c7"/><circle cx="135.7" cy="68.5" r="3" fill="url(#sph)"/><circle cx="142" cy="73" r="1.3" fill="#bababa"/><circle cx="142" cy="73" r="1.3" fill="url(#sph)"/><circle cx="152.3" cy="71.8" r="1.3" fill="#bababa"/><circle cx="152.3" cy="71.8" r="1.3" fill="url(#sph)"/><circle cx="180.4" cy="48.8" r="1.2" fill="#dadada"/><circle cx="180.4" cy="48.8" r="1.2" fill="url(#sph)"/><circle cx="198.3" cy="46.2" r="1.2" fill="#cccccc"/><circle cx="198.3" cy="46.2" r="1.2" fill="url(#sph)"/><circle cx="158.2" cy="100.7" r="3.3" fill="#c7c7c7"/><circle cx="158.2" cy="100.7" r="3.3" fill="url(#sph)"/><circle cx="214.9" cy="126.7" r="3.8" fill="#bababa"/><circle cx="214.9" cy="126.7" r="3.8" fill="url(#sph)"/><circle cx="240" cy="47.5" r="4.1" fill="#cccccc"/><circle cx="240" cy="47.5" r="4.1" fill="url(#sph)"/><circle cx="242" cy="54.4" r="3.1" fill="#c3c3c3"/><circle cx="242" cy="54.4" r="3.1" fill="url(#sph)"/><circle cx="252.7" cy="52.6" r="2.3" fill="#cccccc"/><circle cx="252.7" cy="52.6" r="2.3" fill="url(#sph)"/><circle cx="236.4" cy="74.3" r="2.8" fill="#c3c3c3"/><circle cx="236.4" cy="74.3" r="2.8" fill="url(#sph)"/><circle cx="236.4" cy="68" r="1.8" fill="#bababa"/><circle cx="236.4" cy="68" r="1.8" fill="url(#sph)"/><circle cx="297" cy="57.7" r="2.8" fill="#d1d1d1"/><circle cx="297" cy="57.7" r="2.8" fill="url(#sph)"/><circle cx="261.2" cy="110" r="5.6" fill="#b0b0b0"/><circle cx="261.2" cy="110" r="5.6" fill="url(#sph)"/><circle cx="271.4" cy="109.3" r="4.6" fill="#d5d5d5"/><circle cx="271.4" cy="109.3" r="4.6" fill="url(#sph)"/><circle cx="251.7" cy="122.9" r="7.7" fill="#a2a2a2"/><circle cx="251.7" cy="122.9" r="7.7" fill="url(#sph)"/><circle cx="228" cy="119" r="5.1" fill="#b0b0b0"/><circle cx="228" cy="119" r="5.1" fill="url(#sph)"/><circle cx="280.3" cy="128" r="2" fill="#c3c3c3"/><circle cx="280.3" cy="128" r="2" fill="url(#sph)"/><circle cx="312.5" cy="99.5" r="6.5" fill="#a2a2a2"/><circle cx="312.5" cy="99.5" r="6.5" fill="url(#sph)"/><circle cx="319" cy="85.8" r="7.2" fill="#acacac"/><circle cx="319" cy="85.8" r="7.2" fill="url(#sph)"/><circle cx="326.6" cy="97.3" r="3.8" fill="#9e9e9e"/><circle cx="326.6" cy="97.3" r="3.8" fill="url(#sph)"/><circle cx="351.8" cy="87.2" r="6.5" fill="#bebebe"/><circle cx="351.8" cy="87.2" r="6.5" fill="url(#sph)"/><circle cx="363.7" cy="85.9" r="4.6" fill="#c7c7c7"/><circle cx="363.7" cy="85.9" r="4.6" fill="url(#sph)"/><circle cx="356.4" cy="96.4" r="4.6" fill="#c3c3c3"/><circle cx="356.4" cy="96.4" r="4.6" fill="url(#sph)"/><circle cx="348.5" cy="92.5" r="3.5" fill="#bababa"/><circle cx="348.5" cy="92.5" r="3.5" fill="url(#sph)"/><circle cx="364.3" cy="100.1" r="3.9" fill="#c3c3c3"/><circle cx="364.3" cy="100.1" r="3.9" fill="url(#sph)"/><circle cx="376.2" cy="98.4" r="3.3" fill="#c3c3c3"/><circle cx="376.2" cy="98.4" r="3.3" fill="url(#sph)"/><circle cx="387.4" cy="100.1" r="4.6" fill="#d1d1d1"/><circle cx="387.4" cy="100.1" r="4.6" fill="url(#sph)"/><circle cx="372.9" cy="102.3" r="3.3" fill="#bababa"/><circle cx="372.9" cy="102.3" r="3.3" fill="url(#sph)"/><circle cx="367.6" cy="107.6" r="2.4" fill="#bebebe"/><circle cx="367.6" cy="107.6" r="2.4" fill="url(#sph)"/><circle cx="357.8" cy="105" r="3.3" fill="#b5b5b5"/><circle cx="357.8" cy="105" r="3.3" fill="url(#sph)"/><circle cx="382.1" cy="120.1" r="3.7" fill="#b0b0b0"/><circle cx="382.1" cy="120.1" r="3.7" fill="url(#sph)"/><circle cx="389.3" cy="119.4" r="2.4" fill="#bababa"/><circle cx="389.3" cy="119.4" r="2.4" fill="url(#sph)"/><circle cx="350.5" cy="116.2" r="5.3" fill="#a7a7a7"/><circle cx="350.5" cy="116.2" r="5.3" fill="url(#sph)"/><circle cx="356" cy="122" r="4" fill="#9e9e9e"/><circle cx="356" cy="122" r="4" fill="url(#sph)"/><circle cx="386.7" cy="75.6" r="2" fill="#cccccc"/><circle cx="386.7" cy="75.6" r="2" fill="url(#sph)"/><circle cx="134" cy="150" r="2.8" fill="#c3c3c3"/><circle cx="134" cy="150" r="2.8" fill="url(#sph)"/><circle cx="138.7" cy="160.8" r="2.4" fill="#c3c3c3"/><circle cx="138.7" cy="160.8" r="2.4" fill="url(#sph)"/><circle cx="171.9" cy="139.5" r="2.4" fill="#c3c3c3"/><circle cx="171.9" cy="139.5" r="2.4" fill="url(#sph)"/><circle cx="198" cy="136" r="4.7" fill="#c3c3c3"/><circle cx="198" cy="136" r="4.7" fill="url(#sph)"/><circle cx="208.6" cy="134.7" r="3.6" fill="#c3c3c3"/><circle cx="208.6" cy="134.7" r="3.6" fill="url(#sph)"/><circle cx="215.7" cy="145.4" r="3.6" fill="#c3c3c3"/><circle cx="215.7" cy="145.4" r="3.6" fill="url(#sph)"/><circle cx="207.4" cy="162" r="4.7" fill="#bababa"/><circle cx="207.4" cy="162" r="4.7" fill="url(#sph)"/><circle cx="209.8" cy="177.4" r="5.2" fill="#b0b0b0"/><circle cx="209.8" cy="177.4" r="5.2" fill="url(#sph)"/><circle cx="160" cy="173.9" r="3.1" fill="#c3c3c3"/><circle cx="160" cy="173.9" r="3.1" fill="url(#sph)"/><circle cx="164.8" cy="178.6" r="2.8" fill="#bababa"/><circle cx="164.8" cy="178.6" r="2.8" fill="url(#sph)"/><circle cx="134" cy="178.6" r="2.4" fill="#bababa"/><circle cx="134" cy="178.6" r="2.4" fill="url(#sph)"/><circle cx="138.7" cy="178.6" r="2.4" fill="#bababa"/><circle cx="138.7" cy="178.6" r="2.4" fill="url(#sph)"/><circle cx="156" cy="187" r="2" fill="#c3c3c3"/><circle cx="156" cy="187" r="2" fill="url(#sph)"/><circle cx="159" cy="191" r="2" fill="#c3c3c3"/><circle cx="159" cy="191" r="2" fill="url(#sph)"/><circle cx="163.6" cy="194" r="3.6" fill="#acacac"/><circle cx="163.6" cy="194" r="3.6" fill="url(#sph)"/><circle cx="177.8" cy="182" r="5" fill="#bebebe"/><circle cx="177.8" cy="182" r="5" fill="url(#sph)"/><circle cx="178" cy="194" r="5" fill="#bababa"/><circle cx="178" cy="194" r="5" fill="url(#sph)"/><circle cx="299.2" cy="154.8" r="11.2" fill="#b8b8b8"/><circle cx="299.2" cy="154.8" r="11.2" fill="url(#sph)"/><circle cx="285.4" cy="133.6" r="4.7" fill="#c7c7c7"/><circle cx="285.4" cy="133.6" r="4.7" fill="url(#sph)"/><circle cx="294.4" cy="133.6" r="4.7" fill="#c7c7c7"/><circle cx="294.4" cy="133.6" r="4.7" fill="url(#sph)"/><circle cx="261.7" cy="134.7" r="3.6" fill="#bababa"/><circle cx="261.7" cy="134.7" r="3.6" fill="url(#sph)"/><circle cx="270" cy="159" r="2.8" fill="#d1d1d1"/><circle cx="270" cy="159" r="2.8" fill="url(#sph)"/><circle cx="281.8" cy="166" r="2.8" fill="#c7c7c7"/><circle cx="281.8" cy="166" r="2.8" fill="url(#sph)"/><circle cx="290" cy="166.8" r="2.4" fill="#cccccc"/><circle cx="290" cy="166.8" r="2.4" fill="url(#sph)"/><circle cx="262.9" cy="164.4" r="1.9" fill="#c3c3c3"/><circle cx="262.9" cy="164.4" r="1.9" fill="url(#sph)"/><circle cx="255.8" cy="187.4" r="2.4" fill="#d1d1d1"/><circle cx="255.8" cy="187.4" r="2.4" fill="url(#sph)"/><circle cx="322" cy="162.5" r="12.6" fill="#bebebe"/><circle cx="322" cy="162.5" r="12.6" fill="url(#sph)"/><circle cx="335.2" cy="164.6" r="4" fill="#bebebe"/><circle cx="335.2" cy="164.6" r="4" fill="url(#sph)"/><circle cx="333.7" cy="176.2" r="5.2" fill="#c7c7c7"/><circle cx="333.7" cy="176.2" r="5.2" fill="url(#sph)"/><circle cx="336" cy="150" r="4.3" fill="#c3c3c3"/><circle cx="336" cy="150" r="4.3" fill="url(#sph)"/><circle cx="353.9" cy="151.3" r="4.3" fill="#bebebe"/><circle cx="353.9" cy="151.3" r="4.3" fill="url(#sph)"/><circle cx="353.9" cy="143" r="2.8" fill="#bababa"/><circle cx="353.9" cy="143" r="2.8" fill="url(#sph)"/><circle cx="342" cy="142" r="2.8" fill="#bababa"/><circle cx="342" cy="142" r="2.8" fill="url(#sph)"/><circle cx="348" cy="139.5" r="2.8" fill="#bababa"/><circle cx="348" cy="139.5" r="2.8" fill="url(#sph)"/><circle cx="367" cy="139.5" r="2.4" fill="#c3c3c3"/><circle cx="367" cy="139.5" r="2.4" fill="url(#sph)"/><circle cx="374" cy="150" r="3.6" fill="#bababa"/><circle cx="374" cy="150" r="3.6" fill="url(#sph)"/><circle cx="381" cy="149" r="4.3" fill="#b5b5b5"/><circle cx="381" cy="149" r="4.3" fill="url(#sph)"/><circle cx="379" cy="140.7" r="3.6" fill="#b0b0b0"/><circle cx="379" cy="140.7" r="3.6" fill="url(#sph)"/><circle cx="317" cy="189.3" r="2" fill="#bababa"/><circle cx="317" cy="189.3" r="2" fill="url(#sph)"/><circle cx="321.4" cy="192" r="2.4" fill="#bababa"/><circle cx="321.4" cy="192" r="2.4" fill="url(#sph)"/><circle cx="350.3" cy="197.6" r="2.4" fill="#bababa"/><circle cx="350.3" cy="197.6" r="2.4" fill="url(#sph)"/><circle cx="374" cy="192.8" r="2.8" fill="#bababa"/><circle cx="374" cy="192.8" r="2.8" fill="url(#sph)"/></g></g><rect x="128" y="218" width="273" height="12" fill="#282828"/><rect x="142.0" y="218" width="0.8" height="12" fill="#777"/><rect x="164.1" y="218" width="0.8" height="12" fill="#777"/><rect x="197.9" y="218" width="0.8" height="12" fill="#777"/><rect x="222.1" y="218" width="0.8" height="12" fill="#777"/><rect x="235.7" y="218" width="0.8" height="12" fill="#777"/><rect x="259.0" y="218" width="0.8" height="12" fill="#777"/><rect x="286.8" y="218" width="0.8" height="12" fill="#777"/><rect x="303.6" y="218" width="0.8" height="12" fill="#777"/><rect x="315.70000000000005" y="218" width="0.8" height="12" fill="#777"/><g fill="#555" stroke="#ddd" stroke-width="0.6"><circle cx="135.60" cy="220.40" r="1.35"/><circle cx="138.72" cy="222.20" r="1.35"/><circle cx="138.72" cy="225.80" r="1.35"/><circle cx="135.60" cy="227.60" r="1.35"/><circle cx="132.48" cy="225.80" r="1.35"/><circle cx="132.48" cy="222.20" r="1.35"/></g><circle cx="135.6" cy="224" r="1" fill="#111"/><text x="143.5" y="223.6" class="sb" font-size="6" font-weight="bold" style="fill:#f0f0f0">thermo</text><text x="143.3" y="229" class="sb" font-size="5.3" style="fill:#999">scientific</text><text x="166.5" y="222.8" class="sb" font-size="3.8" style="fill:#aaa">vac mode</text><text x="166.5" y="228.8" class="sb" font-size="4.6" font-weight="bold" style="fill:#eee">High vacuum</text><text x="200.5" y="222.8" class="sb" font-size="3.8" style="fill:#aaa">WD</text><text x="200.5" y="228.8" class="sb" font-size="4.6" font-weight="bold" style="fill:#eee">11.6 mm</text><text x="224" y="222.8" class="sb" font-size="3.8" style="fill:#aaa">spot</text><text x="224" y="228.8" class="sb" font-size="4.6" font-weight="bold" style="fill:#eee">2.3</text><text x="238" y="222.8" class="sb" font-size="3.8" style="fill:#aaa">mag  □</text><text x="238" y="228.8" class="sb" font-size="4.6" font-weight="bold" style="fill:#eee">10 000 x</text><text x="261" y="222.8" class="sb" font-size="3.8" style="fill:#aaa">pressure</text><text x="261" y="228.8" class="sb" font-size="4.6" font-weight="bold" style="fill:#eee">9.60E-3 Pa</text><text x="289" y="222.8" class="sb" font-size="3.8" style="fill:#aaa">mode</text><text x="289" y="228.8" class="sb" font-size="4.6" font-weight="bold" style="fill:#eee">SE</text><text x="305.5" y="222.8" class="sb" font-size="3.8" style="fill:#aaa">det</text><text x="305.5" y="228.8" class="sb" font-size="4.6" font-weight="bold" style="fill:#eee">ETD</text><rect x="326.5" y="220.6" width="65" height="0.7" fill="#ccc"/><rect x="326.5" y="219.5" width="0.7" height="3" fill="#ccc"/><rect x="390.8" y="219.5" width="0.7" height="3" fill="#ccc"/><rect x="352" y="219" width="14" height="3.4" fill="#2b2b2b"/><text x="359" y="222.6" class="sb" font-size="3.8" style="fill:#ddd" text-anchor="middle">10 µm</text><rect x="316.5" y="224.3" width="84" height="5.4" fill="none" stroke="#666" stroke-width="0.5"/><text x="358.6" y="228.7" class="sb" font-size="4.3" style="fill:#ccc" text-anchor="middle">HiRes Gold on Carbon</text><rect x="404" y="24" width="268" height="242" fill="#fff"/><rect x="437.8" y="34.2" width="222.3" height="191.8" fill="none" stroke="#333" stroke-width="1.2"/><line x1="437.8" y1="33.6" x2="437.8" y2="227" stroke="#333" stroke-width="2"/><line x1="436.8" y1="226.1" x2="660.6" y2="226.1" stroke="#333" stroke-width="2"/><rect x="528.5" y="43" width="121.7" height="139.7" fill="#d0dff5"/><rect x="528.5" y="45.2" width="121.7" height="1.8" fill="#2a2f3a"/><rect x="528.5" y="72.6" width="121.7" height="1.5" fill="#6a7480"/><rect x="528.5" y="180" width="121.7" height="1.8" fill="#4a5260"/><text x="593.9" y="64" text-anchor="middle" class="t11">Wt%</text><text x="633.8" y="64" text-anchor="middle" class="t11"><tspan font-style="italic">σ</tspan>%</text><text x="552.2" y="83.8" text-anchor="middle" class="t11 red">C</text><text x="593.9" y="83.8" text-anchor="middle" class="t11 red">53.4</text><text x="633.8" y="83.8" text-anchor="middle" class="t11 red">68.7</text><text x="552.2" y="97.2" text-anchor="middle" class="t11 red">O</text><text x="593.9" y="97.2" text-anchor="middle" class="t11 red">26.5</text><text x="633.8" y="97.2" text-anchor="middle" class="t11 red">25.6</text><text x="552.2" y="110.7" text-anchor="middle" class="t11 red">Cu</text><text x="593.9" y="110.7" text-anchor="middle" class="t11 red">12.4</text><text x="633.8" y="110.7" text-anchor="middle" class="t11 red">3.0</text><text x="552.2" y="124.1" text-anchor="middle" class="t11">S</text><text x="593.9" y="124.1" text-anchor="middle" class="t11">0.9</text><text x="633.8" y="124.1" text-anchor="middle" class="t11">0.4</text><text x="552.2" y="137.6" text-anchor="middle" class="t11">P</text><text x="593.9" y="137.6" text-anchor="middle" class="t11">1.4</text><text x="633.8" y="137.6" text-anchor="middle" class="t11">0.4</text><text x="552.2" y="151.1" text-anchor="middle" class="t11">K</text><text x="593.9" y="151.1" text-anchor="middle" class="t11">1.0</text><text x="633.8" y="151.1" text-anchor="middle" class="t11">0.7</text><text x="552.2" y="164.5" text-anchor="middle" class="t11">Mn</text><text x="593.9" y="164.5" text-anchor="middle" class="t11">2.5</text><text x="633.8" y="164.5" text-anchor="middle" class="t11">0.6</text><text x="552.2" y="177.9" text-anchor="middle" class="t11">Fe</text><text x="593.9" y="177.9" text-anchor="middle" class="t11">2.0</text><text x="633.8" y="177.9" text-anchor="middle" class="t11">3.0</text><line x1="435.8" y1="202.0" x2="437.8" y2="202.0" stroke="#333" stroke-width="1.2"/><line x1="434.3" y1="178.0" x2="437.8" y2="178.0" stroke="#333" stroke-width="1.2"/><line x1="435.8" y1="154.0" x2="437.8" y2="154.0" stroke="#333" stroke-width="1.2"/><line x1="434.3" y1="130.0" x2="437.8" y2="130.0" stroke="#333" stroke-width="1.2"/><line x1="435.8" y1="106.0" x2="437.8" y2="106.0" stroke="#333" stroke-width="1.2"/><line x1="434.3" y1="82.0" x2="437.8" y2="82.0" stroke="#333" stroke-width="1.2"/><line x1="435.8" y1="58.0" x2="437.8" y2="58.0" stroke="#333" stroke-width="1.2"/><line x1="434.3" y1="34.0" x2="437.8" y2="34.0" stroke="#333" stroke-width="1.2"/><line x1="437.8" y1="226.1" x2="437.8" y2="229.6" stroke="#333" stroke-width="1.2"/><line x1="453.7" y1="226.1" x2="453.7" y2="228.1" stroke="#333" stroke-width="1.2"/><line x1="469.5" y1="226.1" x2="469.5" y2="229.6" stroke="#333" stroke-width="1.2"/><line x1="485.4" y1="226.1" x2="485.4" y2="228.1" stroke="#333" stroke-width="1.2"/><line x1="501.2" y1="226.1" x2="501.2" y2="229.6" stroke="#333" stroke-width="1.2"/><line x1="517.0" y1="226.1" x2="517.0" y2="228.1" stroke="#333" stroke-width="1.2"/><line x1="532.9" y1="226.1" x2="532.9" y2="229.6" stroke="#333" stroke-width="1.2"/><line x1="548.8" y1="226.1" x2="548.8" y2="228.1" stroke="#333" stroke-width="1.2"/><line x1="564.6" y1="226.1" x2="564.6" y2="229.6" stroke="#333" stroke-width="1.2"/><line x1="580.5" y1="226.1" x2="580.5" y2="228.1" stroke="#333" stroke-width="1.2"/><line x1="596.3" y1="226.1" x2="596.3" y2="229.6" stroke="#333" stroke-width="1.2"/><line x1="612.1" y1="226.1" x2="612.1" y2="228.1" stroke="#333" stroke-width="1.2"/><line x1="628.0" y1="226.1" x2="628.0" y2="229.6" stroke="#333" stroke-width="1.2"/><line x1="643.9" y1="226.1" x2="643.9" y2="228.1" stroke="#333" stroke-width="1.2"/><line x1="659.7" y1="226.1" x2="659.7" y2="229.6" stroke="#333" stroke-width="1.2"/><text x="433.2" y="229.9" text-anchor="end" class="t12">0</text><text x="433.2" y="181.9" text-anchor="end" class="t12">15</text><text x="433.2" y="133.9" text-anchor="end" class="t12">30</text><text x="433.2" y="85.9" text-anchor="end" class="t12">45</text><text x="433.2" y="37.9" text-anchor="end" class="t12">60</text><text x="437.8" y="240.6" text-anchor="middle" class="t12">C</text><text x="469.5" y="240.6" text-anchor="middle" class="t12">O</text><text x="501.2" y="240.6" text-anchor="middle" class="t12">Cu</text><text x="532.9" y="240.6" text-anchor="middle" class="t12">S</text><text x="564.6" y="240.6" text-anchor="middle" class="t12">P</text><text x="596.3" y="240.6" text-anchor="middle" class="t12">K</text><text x="628.0" y="240.6" text-anchor="middle" class="t12">Mn</text><text x="659.7" y="240.6" text-anchor="middle" class="t12">Fe</text><text x="549.2" y="259.3" text-anchor="middle" class="t12" style="font-size:12px">Element composition</text><text transform="translate(417.0,129.1) rotate(-90)" text-anchor="middle" class="t12" style="font-size:12.6px">Weight (%)</text><polyline points="437.8,55.1 469.5,141.2 501.2,186.3 532.9,223.1 564.6,221.5 596.3,222.8 628.0,218.0 659.7,219.6" fill="none" stroke="#1f6ae0" stroke-width="1.8"/><rect x="434.6" y="51.9" width="6.4" height="6.4" fill="#1a63e0"/><rect x="466.3" y="138.0" width="6.4" height="6.4" fill="#1a63e0"/><rect x="498.0" y="183.1" width="6.4" height="6.4" fill="#1a63e0"/><rect x="529.7" y="219.9" width="6.4" height="6.4" fill="#1a63e0"/><rect x="561.4" y="218.3" width="6.4" height="6.4" fill="#1a63e0"/><rect x="593.1" y="219.6" width="6.4" height="6.4" fill="#1a63e0"/><rect x="624.8" y="214.8" width="6.4" height="6.4" fill="#1a63e0"/><rect x="656.5" y="216.4" width="6.4" height="6.4" fill="#1a63e0"/></svg>
</body></html>
